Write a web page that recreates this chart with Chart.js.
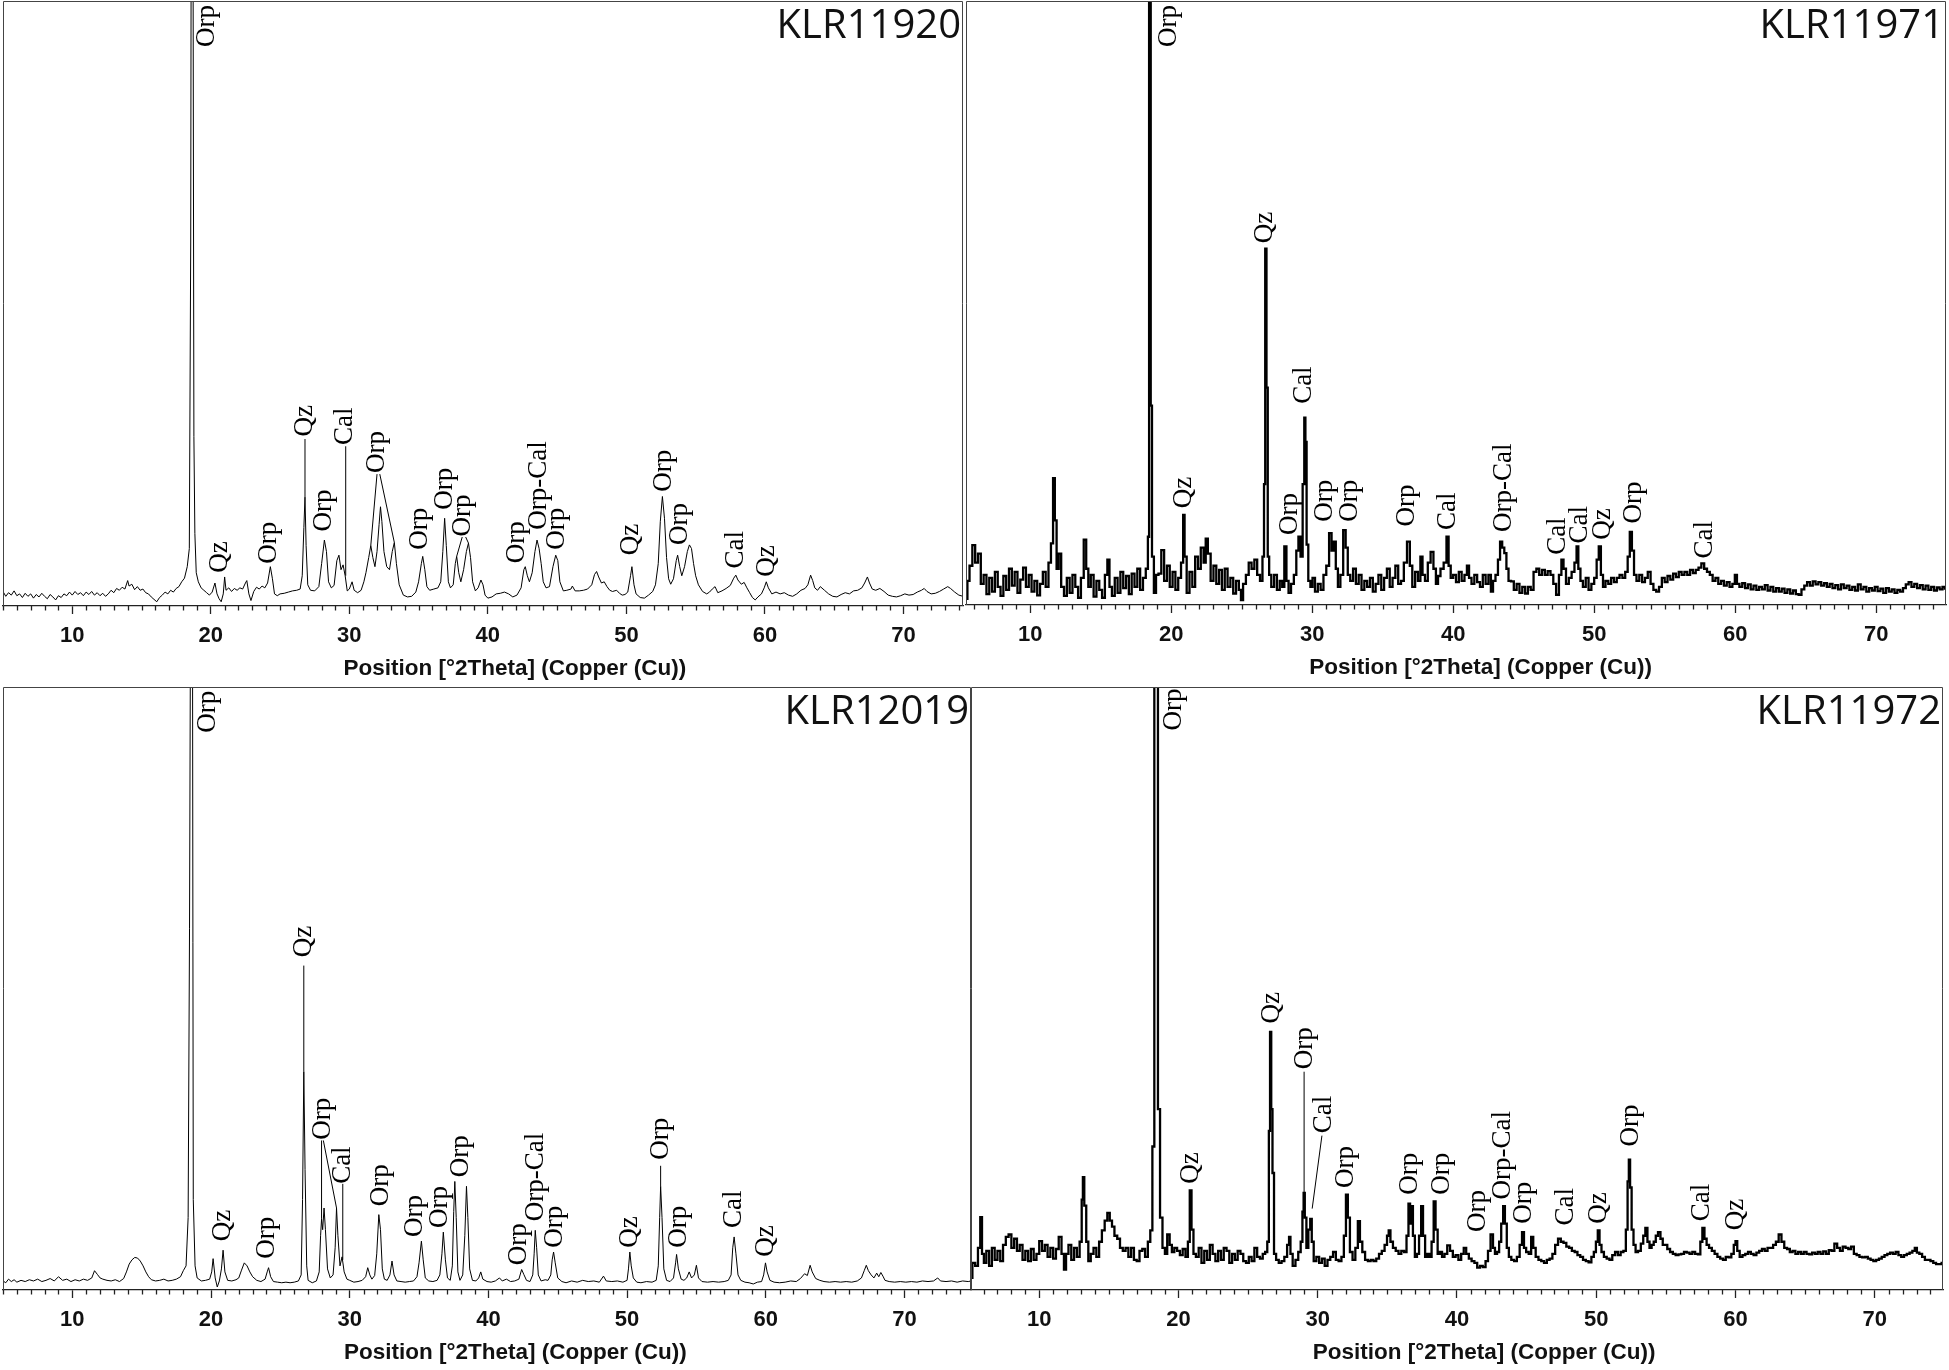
<!DOCTYPE html>
<html><head><meta charset="utf-8">
<script src="https://cdn.jsdelivr.net/npm/chart.js@4.4.1/dist/chart.umd.min.js"></script>
<style>
html,body{margin:0;padding:0;background:#fff;}
#wrap{position:relative;width:1949px;height:1370px;overflow:hidden;background:#fff;}
canvas{position:absolute;}
</style></head><body>
<div id="wrap">
<canvas id="cTL" width="966" height="700" style="left:0px;top:0px;width:966px;height:700px"></canvas>
<canvas id="cTR" width="986" height="700" style="left:963px;top:0px;width:986px;height:700px"></canvas>
<canvas id="cBL" width="974" height="686" style="left:0px;top:684px;width:974px;height:686px"></canvas>
<canvas id="cBR" width="981" height="686" style="left:968px;top:684px;width:981px;height:686px"></canvas>
</div>
<script>
// ---------- shared text / ticks ----------
const tickValues = [10, 20, 30, 40, 50, 60, 70];
const axisTitle = 'Position [°2Theta] (Copper (Cu))';
const panelNames = ['KLR11920', 'KLR11971', 'KLR12019', 'KLR11972'];

// ---------- KLR11920 (top left): [2theta, intensity %] ----------
const tlData = [
[5.0,2.4],[5.2,1.6],[5.4,2.2],[5.6,1.8],[5.8,2.5],[6.0,1.7],[6.2,2.0],[6.4,1.4],[6.6,2.1],[6.8,1.6],
[7.0,2.0],[7.2,1.3],[7.4,1.9],[7.6,1.5],[7.8,2.1],[8.0,1.6],[8.2,1.2],[8.4,1.9],[8.6,1.5],[8.8,1.0],
[9.0,1.7],[9.2,1.4],[9.4,2.0],[9.6,1.7],[9.8,2.3],[10.0,1.8],[10.2,2.4],[10.4,1.9],[10.6,2.2],[10.8,1.7],
[11.0,2.3],[11.2,1.9],[11.4,2.4],[11.6,1.8],[11.8,2.2],[12.0,1.7],[12.2,2.1],[12.4,1.6],[12.6,2.0],[12.8,2.6],
[13.0,2.2],[13.2,2.9],[13.4,2.6],[13.6,3.1],[13.8,2.8],[14.0,4.2],[14.1,3.3],[14.3,3.6],[14.5,2.7],[14.7,3.2],
[14.9,2.6],[15.1,2.8],[15.3,2.2],[15.5,2.0],[15.7,1.5],[15.9,1.1],[16.1,0.7],[16.3,1.4],[16.5,1.8],[16.7,2.3],
[16.9,2.0],[17.1,2.6],[17.3,2.3],[17.5,2.9],[17.7,3.2],[17.9,4.0],[18.1,4.6],[18.3,6.5],[18.45,9.5],[18.55,60],
[18.6,135],[18.7,135],[18.78,28],[18.85,12],[18.95,5.5],[19.1,4.0],[19.3,3.0],[19.5,2.6],[19.7,2.2],[19.9,1.8],
[20.1,2.3],[20.3,3.8],[20.45,2.0],[20.6,1.2],[20.75,0.7],[20.9,2.0],[21.0,4.8],[21.1,2.6],[21.3,3.0],[21.5,2.4],
[21.7,2.9],[21.9,2.6],[22.1,3.0],[22.3,2.8],[22.5,3.8],[22.6,4.2],[22.75,2.0],[22.9,0.9],[23.1,2.4],[23.3,3.1],
[23.5,2.8],[23.7,3.3],[23.9,3.0],[24.1,3.8],[24.3,6.5],[24.45,4.5],[24.6,2.0],[24.8,1.7],[25.0,2.0],[25.3,2.1],
[25.6,2.3],[25.9,2.5],[26.2,2.6],[26.45,2.8],[26.6,5.0],[26.72,13],[26.8,18],[26.88,10],[27.0,3.5],[27.2,2.6],
[27.5,2.5],[27.8,3.2],[28.0,7.0],[28.2,10.9],[28.35,9.0],[28.5,4.0],[28.7,3.0],[28.9,3.4],[29.1,7.5],[29.25,8.4],
[29.4,6.0],[29.55,6.8],[29.7,5.0],[29.85,2.5],[30.0,2.8],[30.2,4.0],[30.35,2.6],[30.6,2.2],[30.85,2.6],[31.05,4.0],
[31.2,5.5],[31.4,8.0],[31.55,10.0],[31.7,8.0],[31.85,6.5],[32.0,9.0],[32.15,13.5],[32.25,16.4],[32.35,14.0],[32.5,9.0],
[32.7,6.5],[32.9,6.0],[33.1,9.0],[33.25,10.5],[33.4,7.0],[33.6,3.5],[33.9,1.8],[34.2,1.5],[34.5,1.6],[34.8,2.3],
[35.0,4.0],[35.2,7.0],[35.3,8.2],[35.45,6.0],[35.6,3.2],[35.8,2.6],[36.1,2.8],[36.4,3.0],[36.6,4.0],[36.75,9.0],
[36.88,14.5],[37.0,10.0],[37.15,4.0],[37.3,3.0],[37.5,3.5],[37.65,7.0],[37.75,8.2],[37.9,5.5],[38.05,4.0],[38.25,6.0],
[38.45,9.0],[38.6,10.4],[38.75,8.0],[38.9,4.0],[39.1,2.5],[39.3,3.0],[39.5,4.3],[39.65,3.5],[39.8,1.8],[40.0,1.3],
[40.3,1.5],[40.6,2.0],[40.9,2.1],[41.2,2.3],[41.5,2.0],[41.8,1.5],[42.1,1.8],[42.4,3.0],[42.6,6.0],[42.7,6.5],
[42.85,5.0],[43.0,4.0],[43.2,5.5],[43.4,9.0],[43.55,10.9],[43.7,9.5],[43.85,7.0],[44.0,4.0],[44.2,3.0],[44.45,3.2],
[44.7,6.5],[44.9,8.4],[45.05,7.5],[45.2,4.0],[45.45,2.5],[45.7,2.6],[46.0,2.8],[46.1,3.3],[46.3,2.5],[46.6,2.5],
[46.9,2.6],[47.2,2.8],[47.5,3.5],[47.7,5.2],[47.85,5.7],[48.0,4.8],[48.2,3.8],[48.4,4.0],[48.6,3.2],[48.8,2.6],
[49.0,2.4],[49.3,2.6],[49.5,2.1],[49.7,1.8],[49.9,1.9],[50.1,2.3],[50.3,5.0],[50.4,6.5],[50.55,3.5],[50.7,2.0],
[51.0,1.4],[51.3,1.3],[51.6,1.8],[51.9,2.4],[52.1,3.5],[52.3,7.0],[52.45,14.0],[52.6,18.1],[52.75,14.5],[52.9,8.0],
[53.05,4.5],[53.2,3.6],[53.4,4.5],[53.6,7.5],[53.7,8.4],[53.85,6.5],[54.0,5.0],[54.2,6.5],[54.4,9.0],[54.55,10.1],
[54.7,9.5],[54.85,7.0],[55.0,5.0],[55.2,3.5],[55.5,2.4],[55.8,2.0],[56.0,2.3],[56.2,2.8],[56.4,3.2],[56.6,2.2],
[56.9,2.5],[57.2,2.9],[57.5,3.4],[57.75,4.6],[57.9,5.1],[58.05,4.3],[58.3,3.6],[58.5,3.9],[58.7,3.0],[58.9,2.2],
[59.1,1.4],[59.3,1.0],[59.5,1.5],[59.75,2.0],[59.95,3.0],[60.1,4.0],[60.25,3.0],[60.5,2.0],[60.8,2.3],[61.1,2.0],
[61.4,2.2],[61.7,1.8],[62.0,1.6],[62.3,2.0],[62.6,2.6],[62.9,2.9],[63.1,3.5],[63.3,5.1],[63.45,4.2],[63.6,3.0],
[63.8,2.6],[64.0,3.2],[64.3,2.6],[64.6,2.0],[64.9,1.6],[65.2,1.5],[65.5,1.9],[65.8,2.2],[66.1,2.0],[66.4,2.5],
[66.7,2.6],[67.0,3.0],[67.2,3.8],[67.4,4.8],[67.55,3.8],[67.75,2.8],[68.0,2.6],[68.3,2.9],[68.6,2.4],[68.9,1.8],
[69.2,1.6],[69.5,1.5],[69.8,1.7],[70.1,2.0],[70.4,1.8],[70.7,1.9],[71.0,2.3],[71.3,2.6],[71.5,2.9],[71.7,2.4],
[72.0,2.0],[72.3,2.1],[72.6,2.4],[72.9,2.8],[73.2,3.2],[73.4,2.9],[73.7,2.3],[74.0,1.8],[74.3,1.6]
];
// labels: [text, 2theta of label centre, intensity of label foot]
const tlLabels = [
['Orp',19.8,92.4],['Qz',20.75,5.5],['Orp',24.3,7.0],['Qz',26.85,28.0],['Orp',28.28,12.3],
['Cal',29.77,26.6],['Orp',32.1,22.0],['Orp',35.2,9.3],['Orp',37.0,15.9],['Orp',38.3,11.5],
['Orp',42.2,7.05],['Orp-Cal',43.75,12.6],['Orp',45.1,9.3],['Qz',50.4,8.4],['Orp',52.8,18.9],
['Orp',53.95,10.1],['Cal',57.97,6.2],['Qz',60.2,4.85]
];
// leader lines: [x1, y1, x2, y2] in 2theta / intensity
const tlLeaders = [
[26.8,18,26.8,27.6],[29.74,5,29.74,26.4],[32.0,21.8,31.55,10.0],[32.2,21.8,33.25,10.5],
[38.15,11.4,37.75,8.2],[38.4,11.4,38.6,10.4]
];

// ---------- KLR11971 (top right) ----------
const trData = [
[5.5,1.0],[5.6,4.0],[5.8,6.5],[6.0,9.9],[6.2,7.0],[6.4,8.5],[6.6,3.5],[6.8,5.0],[7.0,1.8],[7.2,4.5],
[7.4,2.2],[7.6,5.5],[7.8,3.0],[8.0,1.5],[8.2,4.8],[8.4,2.5],[8.6,6.0],[8.8,3.2],[9.0,5.5],[9.2,2.0],
[9.4,4.2],[9.6,6.2],[9.8,3.0],[10.0,5.0],[10.2,2.2],[10.4,4.0],[10.6,1.6],[10.8,3.5],[11.0,5.5],[11.2,3.0],
[11.4,7.0],[11.55,10.2],[11.7,21.0],[11.8,14.0],[11.95,6.0],[12.1,8.5],[12.3,3.0],[12.5,1.5],[12.7,4.5],[12.9,2.0],
[13.1,5.0],[13.3,3.0],[13.5,1.2],[13.7,4.5],[13.9,10.8],[14.05,6.0],[14.2,3.0],[14.4,5.0],[14.6,1.4],[14.8,4.0],
[15.0,2.5],[15.2,1.2],[15.4,5.0],[15.55,7.5],[15.7,3.0],[15.9,1.5],[16.1,4.5],[16.3,2.0],[16.5,5.5],[16.7,2.8],
[16.9,4.8],[17.1,1.8],[17.3,5.2],[17.5,3.0],[17.7,6.0],[17.9,2.5],[18.1,4.5],[18.3,6.0],[18.4,11.3],[18.47,135],
[18.52,135],[18.58,33],[18.7,8.0],[18.85,2.0],[19.0,5.0],[19.2,5.2],[19.4,9.1],[19.6,4.0],[19.8,6.5],[20.0,3.0],[20.2,5.5],
[20.4,2.5],[20.6,4.5],[20.8,7.0],[20.9,14.9],[21.0,8.0],[21.2,2.0],[21.4,5.5],[21.6,3.0],[21.8,8.0],[22.0,6.0],
[22.2,9.5],[22.4,7.0],[22.5,11.0],[22.7,8.5],[22.9,4.0],[23.1,6.5],[23.3,3.5],[23.5,5.8],[23.7,2.5],[23.9,6.0],
[24.1,3.0],[24.3,4.5],[24.5,1.9],[24.7,4.0],[24.9,2.5],[25.0,0.8],[25.2,3.5],[25.4,5.0],[25.6,7.0],[25.8,6.0],
[26.0,7.5],[26.2,5.0],[26.4,4.0],[26.55,8.0],[26.62,20.0],[26.72,59.0],[26.8,36.0],[26.9,8.0],[27.0,5.0],[27.2,3.0],
[27.4,5.0],[27.6,2.5],[27.8,4.0],[27.95,3.0],[28.1,9.7],[28.25,4.0],[28.4,2.0],[28.6,3.5],[28.8,5.0],[28.95,9.0],
[29.1,11.3],[29.25,8.0],[29.4,20.0],[29.48,31.0],[29.56,27.0],[29.65,10.0],[29.8,4.0],[29.95,3.0],[30.1,4.5],[30.3,2.2],
[30.5,3.5],[30.7,2.5],[30.9,5.0],[31.1,6.5],[31.3,11.9],[31.45,9.0],[31.6,10.5],[31.75,6.0],[31.9,3.0],[32.1,5.0],
[32.3,12.4],[32.45,9.5],[32.6,5.0],[32.8,4.0],[33.0,6.0],[33.2,3.5],[33.4,5.0],[33.6,2.5],[33.8,4.0],[34.0,3.0],
[34.2,4.5],[34.4,2.2],[34.6,3.5],[34.8,5.0],[35.0,2.5],[35.2,4.5],[35.4,6.0],[35.6,3.0],[35.8,4.5],[36.0,6.5],
[36.2,3.5],[36.4,4.0],[36.6,7.0],[36.85,10.5],[37.0,6.5],[37.2,3.0],[37.4,5.5],[37.6,4.0],[37.75,8.0],[37.9,5.0],
[38.1,4.0],[38.3,7.0],[38.5,8.8],[38.7,6.0],[38.85,3.5],[39.0,4.8],[39.2,6.0],[39.45,7.0],[39.6,11.3],[39.75,6.5],
[39.9,4.5],[40.1,5.0],[40.3,3.8],[40.5,5.5],[40.7,4.0],[40.9,5.0],[41.05,6.5],[41.2,4.5],[41.4,3.5],[41.6,5.0],
[41.8,3.8],[42.0,3.0],[42.2,5.0],[42.4,3.5],[42.6,5.0],[42.75,2.2],[42.9,4.0],[43.1,5.0],[43.25,7.5],[43.4,10.5],
[43.55,9.5],[43.7,8.6],[43.85,6.0],[44.0,4.0],[44.2,3.9],[44.4,2.5],[44.6,3.5],[44.8,2.0],[45.0,3.0],[45.2,1.9],
[45.4,3.0],[45.6,2.5],[45.8,5.5],[46.0,6.0],[46.2,5.0],[46.4,5.8],[46.6,5.0],[46.8,5.6],[47.0,5.0],[47.2,3.5],
[47.4,1.7],[47.6,5.0],[47.75,7.5],[47.9,6.0],[48.1,3.5],[48.3,4.5],[48.5,5.5],[48.7,7.0],[48.8,9.7],[48.95,6.0],
[49.1,4.0],[49.3,3.0],[49.5,4.5],[49.7,2.5],[49.9,3.5],[50.1,4.5],[50.25,7.5],[50.4,9.7],[50.55,5.0],[50.7,3.0],
[50.9,4.0],[51.1,3.5],[51.3,4.5],[51.5,3.8],[51.7,4.5],[51.9,5.0],[52.1,4.5],[52.3,5.5],[52.45,8.0],[52.6,12.1],
[52.75,9.0],[52.9,5.0],[53.1,4.0],[53.3,5.0],[53.5,3.8],[53.7,4.5],[53.9,5.5],[54.1,3.5],[54.3,2.5],[54.5,2.2],
[54.7,3.0],[54.9,4.5],[55.1,3.8],[55.3,4.8],[55.5,4.2],[55.7,5.2],[55.9,4.6],[56.1,5.5],[56.3,5.0],[56.5,5.5],
[56.7,5.0],[56.9,5.8],[57.1,5.3],[57.3,5.8],[57.5,6.2],[57.7,6.9],[57.9,6.0],[58.1,5.5],[58.3,5.0],[58.5,4.0],
[58.7,4.5],[58.9,3.5],[59.1,4.0],[59.3,3.2],[59.5,3.8],[59.7,3.0],[59.9,3.5],[60.05,5.0],[60.2,3.5],[60.4,3.0],
[60.6,3.6],[60.8,2.8],[61.0,3.4],[61.2,2.6],[61.4,3.2],[61.6,2.5],[61.8,3.0],[62.0,2.6],[62.2,3.3],[62.4,2.4],
[62.6,3.0],[62.8,2.2],[63.0,2.8],[63.2,2.2],[63.4,2.7],[63.6,2.0],[63.8,2.6],[64.0,1.9],[64.2,2.4],[64.4,1.8],
[64.6,1.7],[64.8,2.6],[65.0,3.2],[65.2,3.8],[65.4,3.2],[65.6,3.9],[65.8,3.4],[66.0,3.8],[66.2,3.2],[66.4,3.6],
[66.6,3.0],[66.8,3.5],[67.0,2.8],[67.2,3.3],[67.4,2.6],[67.6,3.4],[67.8,2.8],[68.0,3.2],[68.2,2.5],[68.4,3.0],
[68.6,2.4],[68.8,3.4],[69.0,2.6],[69.2,3.0],[69.4,2.2],[69.6,2.8],[69.8,2.4],[70.0,3.0],[70.2,2.3],[70.4,2.7],
[70.6,2.0],[70.8,2.8],[71.0,2.2],[71.2,2.6],[71.4,2.0],[71.6,2.5],[71.8,2.2],[72.0,2.8],[72.2,3.4],[72.4,3.8],
[72.6,3.0],[72.8,3.5],[73.0,2.8],[73.2,3.3],[73.4,2.6],[73.6,3.2],[73.8,2.5],[74.0,3.0],[74.2,2.4],[74.4,2.9],
[74.6,2.6],[74.8,3.0],[74.95,2.7]
];
const trLabels = [
['Orp',19.9,92.4],['Qz',21.0,16.0],['Qz',26.76,59.9],['Orp',28.47,11.6],['Cal',29.5,33.3],
['Orp',31.0,13.8],['Orp',32.75,13.8],['Orp',36.8,13.0],['Cal',39.73,12.4],['Orp-Cal',43.65,12.1],
['Cal',47.52,8.3],['Cal',49.05,10.2],['Qz',50.67,10.8],['Orp',52.9,13.5],['Cal',57.9,7.7]
];
const trLeaders = [];

// ---------- KLR12019 (bottom left) ----------
const blData = [
[5.0,1.5],[5.2,1.2],[5.4,1.8],[5.6,1.4],[5.8,1.7],[6.0,1.3],[6.3,1.6],[6.6,1.4],[6.9,1.7],[7.2,1.5],
[7.5,1.8],[7.8,1.4],[8.1,1.6],[8.4,1.9],[8.7,1.5],[9.0,2.2],[9.3,1.6],[9.6,1.8],[9.9,1.4],[10.2,1.7],
[10.5,1.5],[10.8,1.8],[11.1,1.6],[11.4,2.0],[11.6,3.2],[11.8,2.6],[12.0,2.0],[12.2,1.8],[12.5,1.6],[12.8,1.5],
[13.1,1.7],[13.4,1.4],[13.7,1.9],[13.9,3.0],[14.1,4.3],[14.3,5.0],[14.5,5.4],[14.7,5.3],[14.9,4.8],[15.1,4.0],
[15.3,3.0],[15.5,2.2],[15.7,1.7],[16.0,1.5],[16.3,1.6],[16.6,1.8],[16.9,1.5],[17.2,1.6],[17.5,1.8],[17.8,2.2],
[18.0,3.2],[18.2,4.0],[18.35,12],[18.45,60],[18.55,135],[18.65,135],[18.72,15],[18.85,4.0],[19.0,2.0],[19.3,1.5],
[19.6,1.6],[19.9,1.8],[20.05,3.0],[20.15,5.2],[20.3,2.0],[20.45,0.5],[20.6,1.5],[20.75,3.5],[20.87,6.6],[21.0,3.0],
[21.2,1.6],[21.5,1.5],[21.8,1.7],[22.0,2.0],[22.2,3.3],[22.4,4.5],[22.6,4.0],[22.8,3.0],[23.0,2.2],[23.3,1.6],
[23.6,1.4],[23.9,1.8],[24.05,3.0],[24.15,3.7],[24.3,2.2],[24.5,1.4],[24.8,1.3],[25.1,1.2],[25.4,1.3],[25.7,1.2],
[26.0,1.3],[26.3,1.5],[26.5,2.5],[26.6,15],[26.69,36.2],[26.78,20],[26.9,4.0],[27.0,1.6],[27.3,1.2],[27.6,1.5],
[27.8,3.0],[27.9,9.0],[27.97,11.8],[28.05,10.0],[28.15,13.6],[28.25,10.0],[28.4,3.5],[28.6,2.0],[28.8,2.5],[28.95,7.0],
[29.05,13.6],[29.15,9.0],[29.3,4.0],[29.45,5.5],[29.6,3.0],[29.8,1.8],[30.0,1.6],[30.3,1.3],[30.6,1.4],[30.9,1.6],
[31.15,2.2],[31.3,3.7],[31.45,2.5],[31.6,1.8],[31.8,2.4],[31.95,6.0],[32.1,12.5],[32.22,10.0],[32.35,3.5],[32.5,1.8],
[32.7,1.6],[32.9,2.5],[33.05,4.8],[33.2,2.5],[33.4,1.5],[33.7,1.4],[34.0,1.3],[34.3,1.4],[34.6,1.5],[34.85,2.2],
[35.0,4.5],[35.17,8.1],[35.3,5.0],[35.45,2.0],[35.7,1.5],[36.0,1.4],[36.3,1.6],[36.5,2.5],[36.65,6.0],[36.75,9.6],
[36.9,5.0],[37.05,2.0],[37.25,1.6],[37.4,4.0],[37.5,13.0],[37.58,18.0],[37.68,12.0],[37.8,3.0],[37.95,1.6],[38.15,2.5],
[38.3,9.0],[38.42,17.2],[38.52,12.0],[38.65,3.5],[38.85,1.6],[39.1,1.5],[39.3,2.0],[39.45,3.0],[39.6,1.8],[39.9,1.4],
[40.2,1.3],[40.5,1.5],[40.8,2.0],[41.0,1.5],[41.3,1.8],[41.6,1.4],[41.9,1.5],[42.2,1.8],[42.4,3.4],[42.55,2.6],
[42.75,1.6],[43.0,1.4],[43.2,2.5],[43.3,6.0],[43.38,9.9],[43.48,7.0],[43.6,2.5],[43.8,1.5],[44.1,1.7],[44.3,1.6],
[44.5,2.5],[44.6,5.0],[44.7,6.3],[44.82,4.5],[45.0,2.0],[45.3,1.4],[45.6,1.2],[46.0,1.5],[46.4,1.3],[46.8,1.6],
[47.2,1.4],[47.6,1.5],[48.0,1.3],[48.3,2.3],[48.5,1.5],[48.9,1.4],[49.3,1.5],[49.7,1.3],[50.0,1.6],[50.1,3.5],
[50.2,6.3],[50.3,4.0],[50.45,2.0],[50.7,1.3],[51.0,1.2],[51.4,1.4],[51.8,1.3],[52.1,1.6],[52.25,4.0],[52.35,12.0],
[52.42,17.2],[52.52,12.0],[52.65,3.5],[52.85,1.6],[53.1,1.4],[53.35,2.0],[53.5,4.5],[53.57,5.9],[53.7,3.5],[53.9,1.8],
[54.1,1.6],[54.3,2.0],[54.48,3.0],[54.65,2.0],[54.85,2.5],[55.0,4.1],[55.15,2.0],[55.4,1.4],[55.8,1.3],[56.2,1.4],
[56.6,1.3],[57.0,1.4],[57.3,1.6],[57.5,2.5],[57.62,7.0],[57.72,8.8],[57.85,6.0],[58.0,2.5],[58.2,1.6],[58.5,1.3],
[58.8,1.2],[59.1,1.0],[59.4,1.3],[59.7,1.4],[59.85,2.5],[59.98,4.5],[60.1,3.0],[60.3,1.6],[60.6,1.3],[61.0,1.2],
[61.4,1.3],[61.8,1.5],[62.2,1.4],[62.5,1.9],[62.8,2.7],[63.0,2.4],[63.2,4.1],[63.35,3.0],[63.6,1.9],[63.9,1.6],
[64.2,1.4],[64.6,1.3],[65.0,1.4],[65.4,1.3],[65.8,1.4],[66.2,1.3],[66.6,1.5],[66.9,2.0],[67.1,3.2],[67.25,4.1],
[67.4,3.2],[67.6,2.5],[67.8,2.0],[68.0,2.8],[68.15,2.2],[68.3,2.9],[68.45,2.3],[68.6,1.6],[68.9,1.4],[69.3,1.3],
[69.7,1.4],[70.1,1.3],[70.5,1.4],[70.9,1.3],[71.3,1.5],[71.7,1.4],[72.1,1.5],[72.4,2.0],[72.6,1.5],[73.0,1.4],
[73.4,1.5],[73.8,1.3],[74.2,1.5],[74.6,1.4],[74.8,1.5]
];
const blLabels = [
['Orp',19.83,92.4],['Qz',20.96,8.1],['Orp',24.12,5.2],['Qz',26.8,55.2],['Orp',28.18,24.9],
['Cal',29.6,17.6],['Orp',32.33,13.9],['Orp',34.8,8.8],['Orp',36.6,10.3],['Orp',38.1,18.7],
['Orp',42.25,4.1],['Orp-Cal',43.5,11.4],['Orp',44.87,7.0],['Qz',50.28,7.0],['Orp',52.53,21.6],
['Orp',53.8,7.0],['Cal',57.8,10.3],['Qz',60.07,5.5]
];
const blLeaders = [
[26.69,36.2,26.69,53.8],[27.97,24.8,27.97,11.8],[28.1,24.8,29.05,13.6],[29.5,5.0,29.5,17.6],
[52.42,17.2,52.42,20.6]
];

// ---------- KLR11972 (bottom right) ----------
const brData = [
[5.1,2.0],[5.3,4.5],[5.5,4.0],[5.7,7.0],[5.83,12.1],[5.95,6.0],[6.1,4.5],[6.3,6.5],[6.5,4.0],[6.7,7.0],
[6.9,5.0],[7.1,6.5],[7.3,4.8],[7.5,7.5],[7.7,8.8],[7.9,9.2],[8.1,7.0],[8.3,8.5],[8.5,6.5],[8.7,7.5],
[8.9,5.0],[9.1,6.5],[9.3,4.8],[9.5,6.8],[9.7,5.0],[9.9,6.0],[10.1,8.1],[10.3,6.5],[10.5,7.5],[10.7,5.5],
[10.9,7.0],[11.1,5.2],[11.3,6.8],[11.5,8.8],[11.7,6.0],[11.85,3.4],[12.0,6.0],[12.2,7.5],[12.4,5.0],[12.6,7.0],
[12.8,5.5],[13.0,8.0],[13.1,15.0],[13.17,18.7],[13.3,14.0],[13.45,8.0],[13.6,4.8],[13.8,6.0],[14.0,7.0],[14.2,5.5],
[14.4,8.0],[14.6,9.9],[14.8,11.5],[14.98,12.8],[15.15,11.5],[15.3,10.5],[15.5,9.0],[15.7,8.5],[15.9,7.0],[16.1,6.5],
[16.3,7.0],[16.5,5.5],[16.7,7.0],[16.9,5.0],[17.1,4.8],[17.3,6.5],[17.5,6.8],[17.7,5.5],[17.9,8.0],[18.05,9.9],
[18.2,23.8],[18.33,135],[18.45,135],[18.6,30],[18.75,12],[18.95,7.0],[19.1,6.0],[19.28,9.2],[19.45,7.5],[19.6,6.3],
[19.8,7.0],[20.0,6.5],[20.2,5.8],[20.4,6.8],[20.6,5.5],[20.75,8.0],[20.87,16.5],[21.0,10.0],[21.15,6.0],[21.35,5.5],
[21.55,7.0],[21.75,4.5],[21.95,6.5],[22.15,5.0],[22.35,7.5],[22.55,6.0],[22.75,4.8],[22.95,6.5],[23.15,5.0],[23.35,7.0],
[23.55,6.5],[23.75,4.5],[23.95,6.0],[24.15,5.0],[24.35,6.5],[24.55,6.0],[24.75,4.8],[24.95,4.5],[25.15,5.5],[25.35,4.8],
[25.55,7.0],[25.75,5.5],[25.95,5.2],[26.15,6.0],[26.3,6.3],[26.45,8.0],[26.53,26.4],[26.62,42.8],[26.7,30.0],[26.8,19.4],
[26.92,6.0],[27.1,5.0],[27.3,4.5],[27.5,4.8],[27.7,5.5],[27.9,7.5],[27.98,8.8],[28.1,6.0],[28.3,4.0],[28.5,5.0],
[28.7,6.3],[28.85,8.0],[28.95,13.0],[29.02,16.1],[29.12,12.0],[29.25,7.0],[29.4,10.0],[29.52,11.8],[29.62,8.0],[29.8,4.8],
[30.0,5.5],[30.2,4.5],[30.4,5.2],[30.6,4.0],[30.8,5.0],[31.0,5.5],[31.2,6.3],[31.4,5.0],[31.6,4.8],[31.8,5.5],
[31.95,9.0],[32.1,15.8],[32.22,12.0],[32.4,6.3],[32.6,5.0],[32.8,7.0],[32.96,11.4],[33.1,8.0],[33.3,6.3],[33.5,5.0],
[33.7,4.8],[33.9,5.0],[34.1,4.8],[34.3,5.2],[34.5,6.0],[34.7,6.5],[34.9,7.5],[35.05,9.0],[35.14,9.9],[35.3,8.0],
[35.5,7.0],[35.7,6.5],[35.9,6.0],[36.1,6.5],[36.3,6.3],[36.45,9.0],[36.58,14.3],[36.68,11.0],[36.77,13.9],[36.9,9.0],
[37.05,5.5],[37.2,6.0],[37.35,9.0],[37.5,13.9],[37.62,9.0],[37.8,5.5],[37.95,6.0],[38.1,5.5],[38.25,8.0],[38.4,14.7],
[38.52,10.0],[38.7,6.0],[38.85,6.3],[39.0,5.5],[39.2,6.0],[39.4,7.4],[39.6,6.5],[39.8,5.5],[40.0,5.8],[40.2,5.0],
[40.4,6.0],[40.57,7.0],[40.75,6.0],[40.95,5.2],[41.15,4.8],[41.35,4.5],[41.55,3.7],[41.75,4.0],[41.95,3.8],[42.15,4.8],
[42.3,6.5],[42.52,9.2],[42.65,7.0],[42.8,6.0],[42.95,6.3],[43.1,8.0],[43.25,11.0],[43.38,13.9],[43.5,11.0],[43.65,7.0],
[43.8,5.5],[44.0,5.0],[44.2,4.8],[44.4,5.5],[44.6,7.5],[44.74,9.6],[44.88,7.0],[45.05,6.3],[45.25,6.0],[45.4,8.8],
[45.55,7.0],[45.75,5.5],[45.95,5.0],[46.15,4.8],[46.35,4.5],[46.55,5.0],[46.75,5.2],[46.95,6.0],[47.15,7.5],[47.36,8.5],
[47.55,8.0],[47.75,7.8],[47.95,7.2],[48.15,7.0],[48.35,6.5],[48.55,6.3],[48.75,5.8],[48.95,5.5],[49.15,5.0],[49.35,4.8],
[49.55,4.6],[49.75,5.5],[49.9,6.3],[50.05,8.0],[50.17,9.9],[50.3,7.5],[50.45,6.3],[50.65,5.5],[50.85,5.2],[51.05,5.0],
[51.25,5.8],[51.45,6.3],[51.65,5.8],[51.85,6.3],[52.05,6.5],[52.2,10.0],[52.3,18.0],[52.38,21.6],[52.48,17.0],[52.6,10.0],
[52.75,7.5],[52.9,6.3],[53.1,6.5],[53.3,7.7],[53.45,9.0],[53.6,10.3],[53.75,8.0],[53.9,7.0],[54.05,7.5],[54.2,8.0],
[54.35,9.0],[54.52,9.6],[54.7,8.5],[54.85,7.5],[55.0,7.5],[55.2,6.8],[55.4,6.3],[55.6,6.0],[55.8,5.8],[56.0,5.9],
[56.2,6.0],[56.4,6.3],[56.6,6.2],[56.8,6.0],[57.0,6.3],[57.2,6.0],[57.4,5.9],[57.55,8.0],[57.69,10.3],[57.85,8.5],
[58.0,7.5],[58.2,7.0],[58.4,6.5],[58.6,6.0],[58.8,5.5],[59.0,5.2],[59.2,5.0],[59.4,5.5],[59.6,5.4],[59.8,6.0],
[59.95,7.5],[60.05,8.1],[60.2,6.5],[60.4,5.5],[60.6,5.8],[60.8,6.0],[61.0,6.3],[61.2,6.0],[61.4,5.8],[61.6,6.2],
[61.8,6.5],[62.0,6.8],[62.2,6.5],[62.4,7.0],[62.6,7.0],[62.8,7.5],[63.0,8.0],[63.2,9.2],[63.4,8.0],[63.6,7.0],
[63.8,6.8],[64.0,6.3],[64.2,6.5],[64.4,6.0],[64.6,6.3],[64.8,6.0],[65.0,6.3],[65.2,6.0],[65.4,5.9],[65.6,6.2],
[65.8,6.0],[66.0,6.3],[66.2,6.0],[66.4,6.4],[66.6,6.0],[66.8,6.6],[67.0,6.5],[67.2,7.7],[67.4,7.0],[67.6,6.5],
[67.8,7.2],[68.0,7.0],[68.2,6.8],[68.4,7.2],[68.6,6.0],[68.8,5.8],[69.0,5.5],[69.2,5.4],[69.4,5.5],[69.6,5.2],
[69.8,5.0],[70.0,4.8],[70.2,5.0],[70.4,5.2],[70.6,5.5],[70.8,5.8],[71.0,6.0],[71.2,6.2],[71.4,6.0],[71.6,6.3],
[71.8,5.8],[72.0,5.5],[72.2,5.8],[72.4,6.0],[72.6,6.2],[72.8,6.5],[72.95,7.0],[73.1,6.2],[73.3,6.0],[73.5,5.5],
[73.7,5.0],[73.9,5.0],[74.1,4.8],[74.3,4.5],[74.5,4.3],[74.7,4.3],[74.9,4.5]
];
const brLabels = [
['Orp',19.74,92.8],['Qz',20.96,17.6],['Qz',26.8,44.2],['Orp',29.16,36.6],['Cal',30.5,26.0],
['Orp',32.1,16.9],['Orp',36.72,15.8],['Orp',39.0,15.8],['Orp',41.57,9.6],['Orp-Cal',43.38,15.0],
['Orp',44.87,11.0],['Cal',47.9,10.7],['Qz',50.3,11.0],['Orp',52.57,23.8],['Cal',57.7,11.4],['Qz',60.14,9.9]
];
const brLeaders = [
[29.02,16.1,29.02,36.2],[29.6,13.5,30.3,25.6]
];

// ---------- panel set-up (layout only) ----------
const panels = {
  cTL: {name: panelNames[0], data: tlData, labels: tlLabels, leaders: tlLeaders, xmin: 5, xmax: 74.3, lw: 1, stepped: false, pad: {left: 3, right: 3, top: 1, bottom: 0}, axisH: 94},
  cTR: {name: panelNames[1], data: trData, labels: trLabels, leaders: trLeaders, xmin: 5.45, xmax: 74.95, lw: 2.3, stepped: 'middle', pad: {left: 3, right: 3, top: 1, bottom: 0}, axisH: 95},
  cBL: {name: panelNames[2], data: blData, labels: blLabels, leaders: blLeaders, xmin: 5, xmax: 74.8, lw: 1, stepped: false, pad: {left: 3, right: 3, top: 3, bottom: 0}, axisH: 80},
  cBR: {name: panelNames[3], data: brData, labels: brLabels, leaders: brLeaders, xmin: 5.1, xmax: 74.9, lw: 2.3, stepped: 'middle', pad: {left: 3, right: 6, top: 3, bottom: 0}, axisH: 80}
};

const decorPlugin = {
  id: 'decor',
  afterDraw(chart) {
    const p = panels[chart.canvas.id];
    const ctx = chart.ctx, a = chart.chartArea, x = chart.scales.x, y = chart.scales.y;
    ctx.save();
    // frame (left, top, right)
    ctx.strokeStyle = '#444'; ctx.lineWidth = 1;
    ctx.beginPath();
    ctx.moveTo(a.left + 0.5, a.bottom); ctx.lineTo(a.left + 0.5, a.top + 0.5);
    ctx.lineTo(a.right - 0.5, a.top + 0.5); ctx.lineTo(a.right - 0.5, a.bottom);
    ctx.stroke();
    // minor ticks every 1 degree
    ctx.strokeStyle = '#222'; ctx.lineWidth = 1.3;
    for (let v = Math.ceil(x.min); v <= Math.floor(x.max); v++) {
      if (v % 10 === 0) continue;
      const px = Math.round(x.getPixelForValue(v)) + 0.5;
      ctx.beginPath(); ctx.moveTo(px, a.bottom); ctx.lineTo(px, a.bottom + 4.5); ctx.stroke();
    }
    // leader lines
    ctx.strokeStyle = '#000'; ctx.lineWidth = 1;
    p.leaders.forEach(L => {
      ctx.beginPath();
      ctx.moveTo(x.getPixelForValue(L[0]), y.getPixelForValue(L[1]));
      ctx.lineTo(x.getPixelForValue(L[2]), y.getPixelForValue(L[3]));
      ctx.stroke();
    });
    // phase labels (rotated)
    ctx.fillStyle = '#000';
    ctx.font = '27px "Liberation Serif", "Times New Roman", serif';
    ctx.textAlign = 'left'; ctx.textBaseline = 'alphabetic';
    p.labels.forEach(L => {
      ctx.save();
      ctx.translate(x.getPixelForValue(L[1]), y.getPixelForValue(L[2]));
      ctx.rotate(-Math.PI / 2);
      ctx.fillText(L[0], 0, 6);
      ctx.restore();
    });
    // panel name
    ctx.fillStyle = '#111';
    ctx.font = '40px "Open Sans", sans-serif';
    ctx.textAlign = 'right';
    ctx.fillText(p.name, a.right - 2, a.top + 37);
    // axis title
    ctx.font = 'bold 22.5px "Liberation Sans", Arial, sans-serif';
    ctx.textAlign = 'center';
    ctx.fillText(axisTitle, x.getPixelForValue(41.95), a.bottom + 69);
    ctx.restore();
  }
};

Object.keys(panels).forEach(id => {
  const p = panels[id];
  new Chart(document.getElementById(id), {
    type: 'line',
    data: {datasets: [{
      data: p.data.map(d => ({x: d[0], y: d[1]})),
      borderColor: '#000', borderWidth: p.lw, pointRadius: 0, tension: 0,
      stepped: p.stepped, fill: false, clip: 0
    }]},
    options: {
      responsive: false, animation: false, devicePixelRatio: 1, events: [],
      layout: {padding: p.pad},
      plugins: {legend: {display: false}, tooltip: {enabled: false}, title: {display: false}},
      scales: {
        x: {
          type: 'linear', position: 'bottom', min: p.xmin, max: p.xmax,
          afterBuildTicks: s => { s.ticks = tickValues.filter(v => v >= s.min && v <= s.max).map(v => ({value: v})); },
          afterFit: s => { s.height = p.axisH; },
          grid: {display: true, drawOnChartArea: false, drawTicks: true, tickLength: 8, tickColor: '#222', tickWidth: 1.3},
          border: {display: true, color: '#222', width: 1.3},
          ticks: {color: '#111', autoSkip: false, maxRotation: 0, padding: 9,
                  font: {family: '"Liberation Sans", Arial, sans-serif', size: 22, weight: 'bold'}}
        },
        y: {type: 'linear', display: false, min: 0, max: 100}
      }
    },
    plugins: [decorPlugin]
  });
});
</script>
</body></html>
